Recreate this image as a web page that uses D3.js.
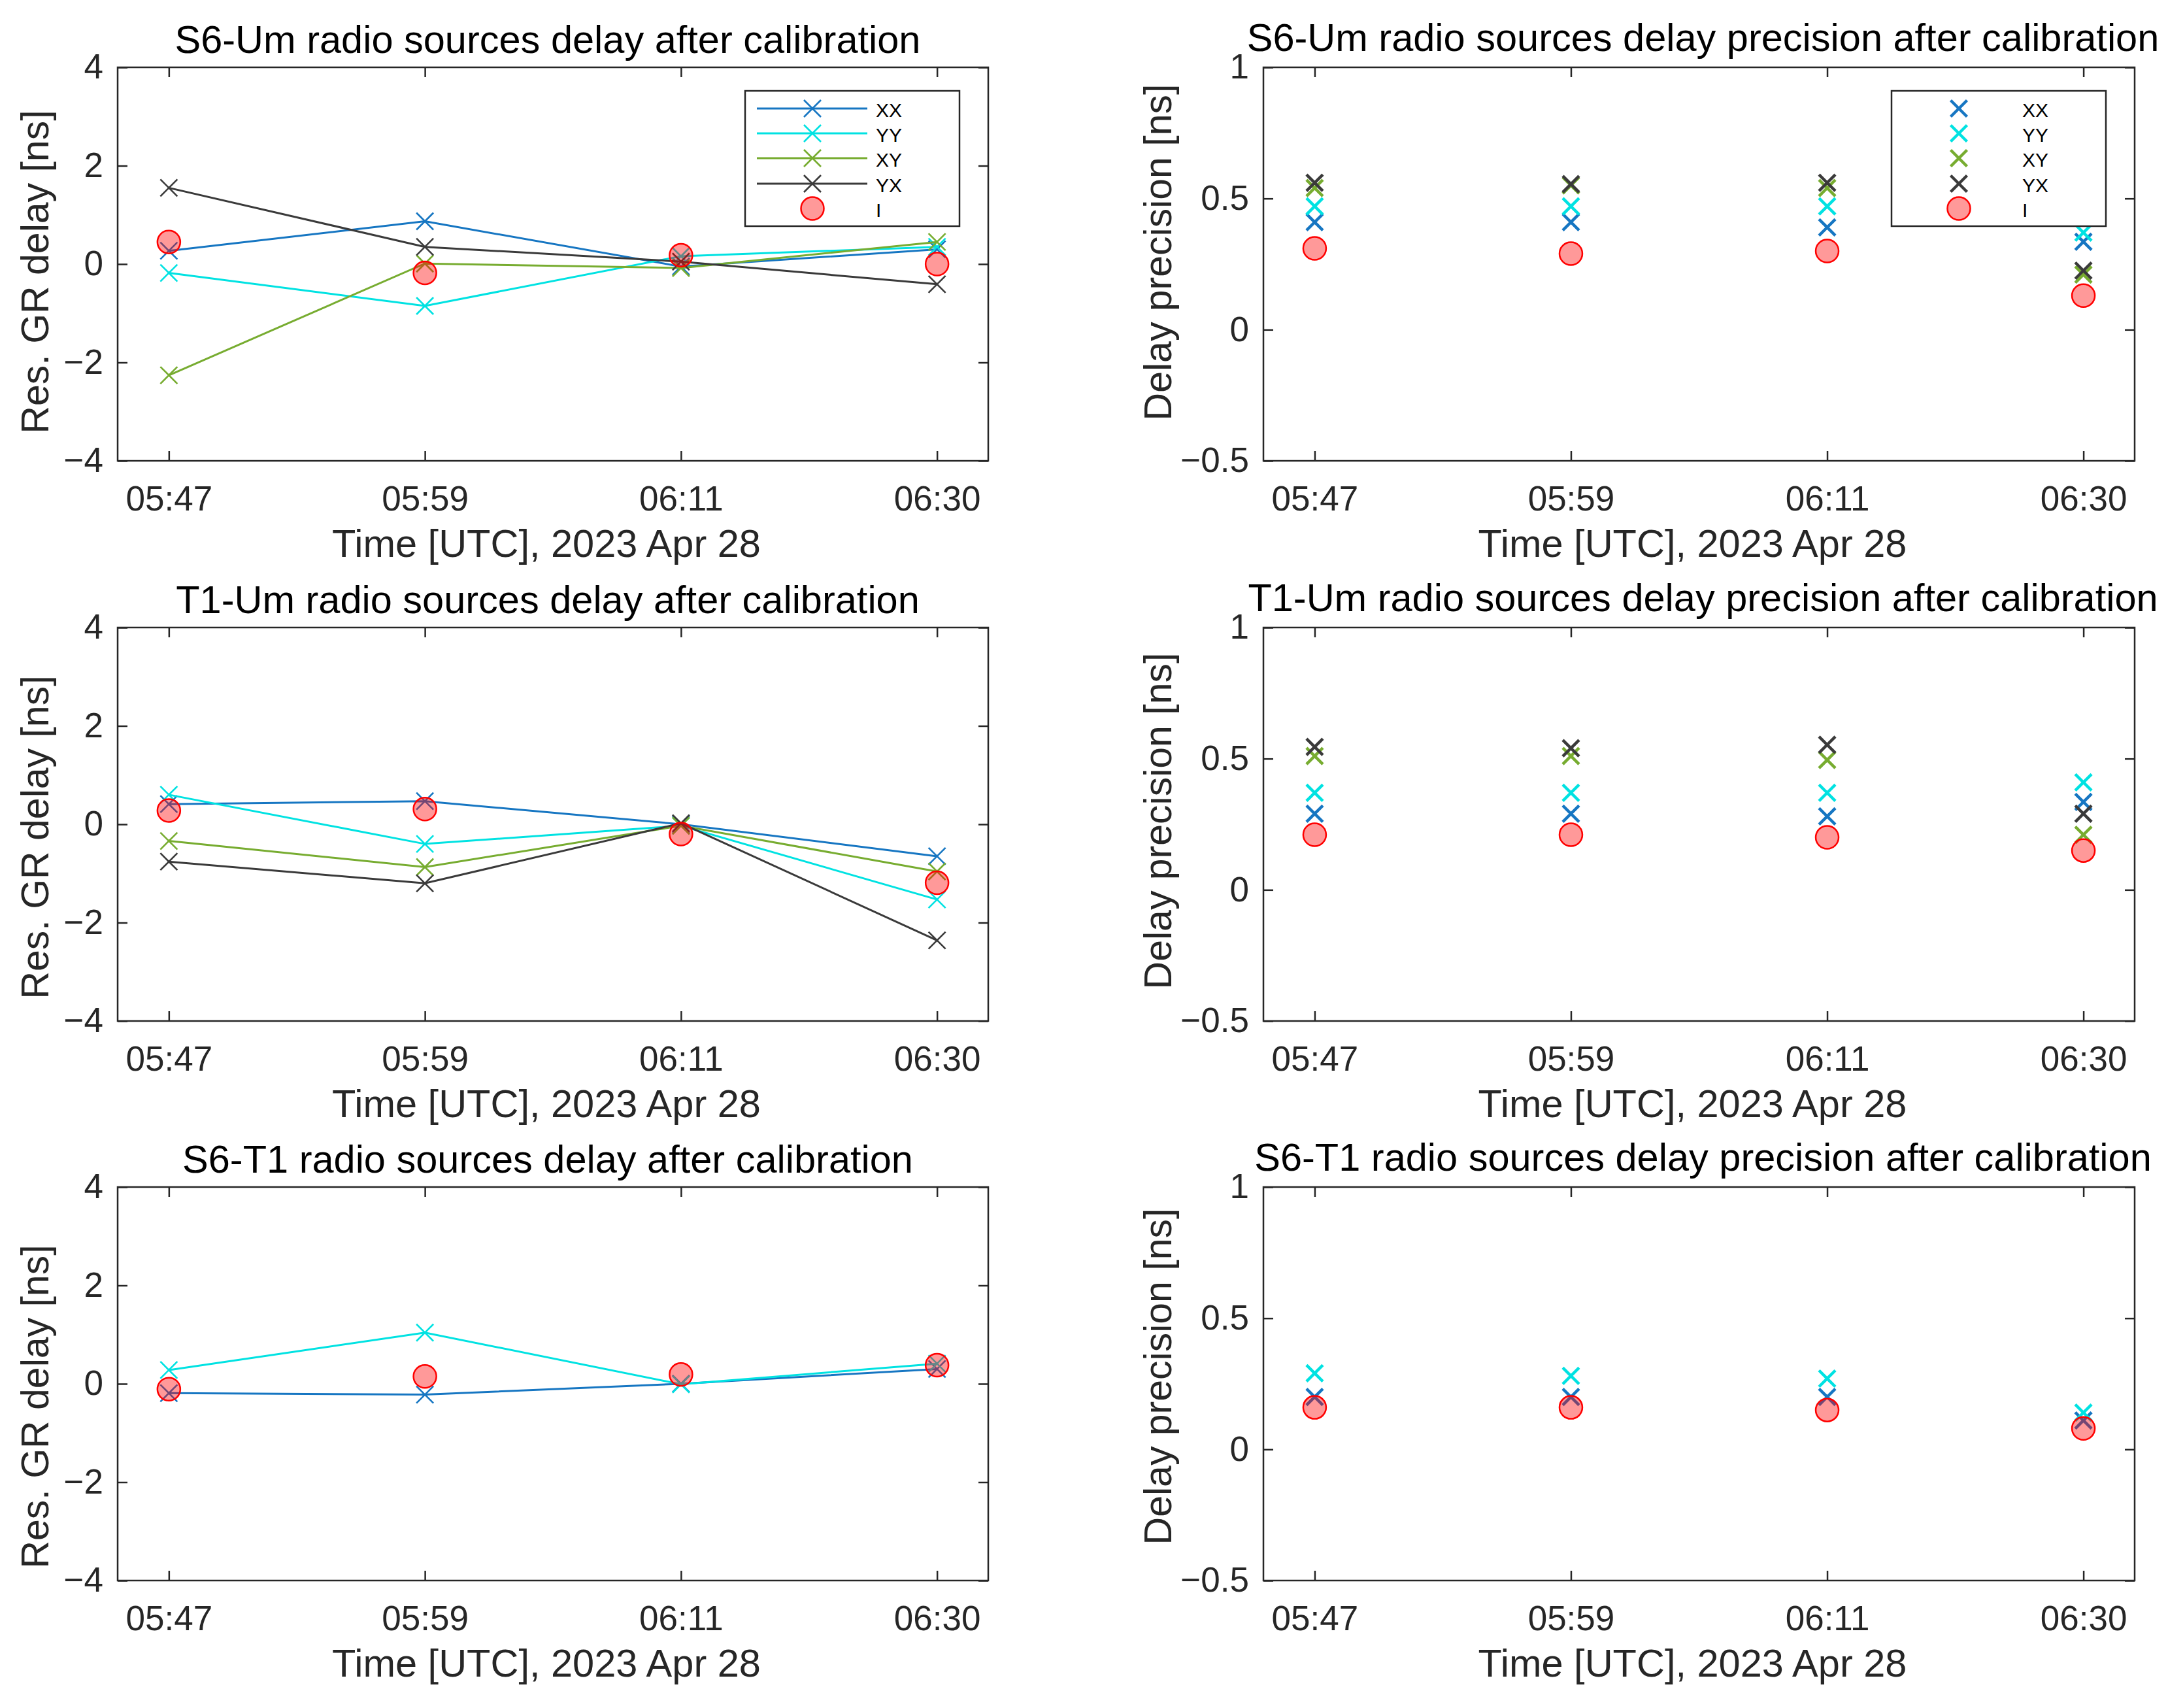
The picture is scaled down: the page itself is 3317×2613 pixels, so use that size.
<!DOCTYPE html>
<html>
<head>
<meta charset="utf-8">
<script src="https://cdn.jsdelivr.net/npm/d3@7"></script>
<style>
  html, body { margin: 0; padding: 0; background: #fff; }
</style>
</head>
<body>
<script>
// categories and tick labels
const timeLabels = ['05:47', '05:59', '06:11', '06:30'];
const timeIndex = [1, 2, 3, 4];
const polNames = ['XX', 'YY', 'XY', 'YX', 'I'];
const delayTicks = [-4, -2, 0, 2, 4];
const delayTickLabels = ['\u22124', '\u22122', '0', '2', '4'];
const precTicks = [-0.5, 0, 0.5, 1];
const precTickLabels = ['\u22120.5', '0', '0.5', '1'];

// S6-Um residual delay [ns]
const s6umDelayXX = [0.27, 0.87, -0.05, 0.30];
const s6umDelayYY = [-0.18, -0.85, 0.16, 0.35];
const s6umDelayXY = [-2.26, 0.01, -0.08, 0.45];
const s6umDelayYX = [1.55, 0.35, 0.05, -0.41];
const s6umDelayI = [0.45, -0.18, 0.18, 0.00];

// S6-Um delay precision [ns]
const s6umPrecXX = [0.41, 0.41, 0.39, 0.335];
const s6umPrecYY = [0.47, 0.47, 0.47, 0.37];
const s6umPrecXY = [0.54, 0.55, 0.54, 0.21];
const s6umPrecYX = [0.56, 0.555, 0.56, 0.225];
const s6umPrecI = [0.31, 0.29, 0.30, 0.13];

// T1-Um residual delay [ns]
const t1umDelayXX = [0.41, 0.47, 0.00, -0.65];
const t1umDelayYY = [0.60, -0.40, -0.03, -1.53];
const t1umDelayXY = [-0.34, -0.87, -0.03, -0.96];
const t1umDelayYX = [-0.76, -1.20, 0.02, -2.36];
const t1umDelayI = [0.28, 0.31, -0.20, -1.19];

// T1-Um delay precision [ns]
const t1umPrecXX = [0.29, 0.29, 0.28, 0.335];
const t1umPrecYY = [0.37, 0.37, 0.37, 0.41];
const t1umPrecXY = [0.51, 0.51, 0.495, 0.21];
const t1umPrecYX = [0.545, 0.54, 0.553, 0.29];
const t1umPrecI = [0.21, 0.21, 0.20, 0.15];

// S6-T1 residual delay [ns] (XX and YY only)
const s6t1DelayXX = [-0.19, -0.22, 0.00, 0.30];
const s6t1DelayYY = [0.28, 1.04, -0.01, 0.41];
const s6t1DelayI = [-0.11, 0.15, 0.19, 0.38];

// S6-T1 delay precision [ns]
const s6t1PrecXX = [0.20, 0.20, 0.20, 0.11];
const s6t1PrecYY = [0.29, 0.28, 0.27, 0.14];
const s6t1PrecI = [0.16, 0.16, 0.15, 0.08];

const polColors = ['#1676c2', '#00e2e2', '#77ac30', '#3a3a3a'];

const panels = [
    { title: 'S6-Um radio sources delay after calibration', kind: 'delay', col: 0, row: 0,
      series: [s6umDelayXX, s6umDelayYY, s6umDelayXY, s6umDelayYX], stokesI: s6umDelayI, legend: true, labelShift: 12 },
    { title: 'S6-Um radio sources delay precision after calibration', kind: 'prec', col: 1, row: 0,
      series: [s6umPrecXX, s6umPrecYY, s6umPrecXY, s6umPrecYX], stokesI: s6umPrecI, legend: true, labelShift: -18 },
    { title: 'T1-Um radio sources delay after calibration', kind: 'delay', col: 0, row: 1,
      series: [t1umDelayXX, t1umDelayYY, t1umDelayXY, t1umDelayYX], stokesI: t1umDelayI, legend: false, labelShift: 20 },
    { title: 'T1-Um radio sources delay precision after calibration', kind: 'prec', col: 1, row: 1,
      series: [t1umPrecXX, t1umPrecYY, t1umPrecXY, t1umPrecYX], stokesI: t1umPrecI, legend: false, labelShift: -5 },
    { title: 'S6-T1 radio sources delay after calibration', kind: 'delay', col: 0, row: 2,
      series: [s6t1DelayXX, s6t1DelayYY, null, null], stokesI: s6t1DelayI, legend: false, labelShift: 35 },
    { title: 'S6-T1 radio sources delay precision after calibration', kind: 'prec', col: 1, row: 2,
      series: [s6t1PrecXX, s6t1PrecYY, null, null], stokesI: s6t1PrecI, legend: false, labelShift: -11 }
];

// layout
const W = 3317, H = 2613;
const colX = [180, 1933];
const colW = [1332, 1333];
const rowY = [103, 960, 1816];
const plotH = 602;
const axisColor = '#262626';
const font = '"Liberation Sans", Arial, Helvetica, sans-serif';

const svg = d3.select('body').append('svg')
    .attr('width', W)
    .attr('height', H)
    .style('font-family', font);

function crossPath(r) {
    return `M${-r},${-r}L${r},${r}M${-r},${r}L${r},${-r}`;
}

function styleAxis(sel) {
    sel.select('.domain').remove();
    sel.attr('font-size', null).attr('font-family', null);
    sel.selectAll('.tick line').attr('stroke', axisColor).attr('stroke-width', 2.5);
    sel.selectAll('.tick text').attr('fill', axisColor).style('font-size', '53px');
}

panels.forEach(p => {
    const w = colW[p.col], h = plotH;
    const g = svg.append('g').attr('transform', `translate(${colX[p.col]},${rowY[p.row]})`);

    const x = d3.scaleLinear().domain([0.8, 4.2]).range([0, w]);
    const y = d3.scaleLinear()
        .domain(p.kind === 'delay' ? [-4, 4] : [-0.5, 1])
        .range([h, 0]);
    const yTicks = p.kind === 'delay' ? delayTicks : precTicks;
    const yLabels = p.kind === 'delay' ? delayTickLabels : precTickLabels;

    // axes with inward ticks on all four sides
    g.append('g').attr('transform', `translate(0,${h})`)
        .call(d3.axisBottom(x).tickValues(timeIndex).tickFormat((d, i) => timeLabels[i])
            .tickSizeInner(-15).tickSizeOuter(0).tickPadding(38))
        .call(styleAxis);
    g.append('g')
        .call(d3.axisTop(x).tickValues(timeIndex).tickFormat('').tickSizeInner(-15).tickSizeOuter(0))
        .call(styleAxis);
    g.append('g')
        .call(d3.axisLeft(y).tickValues(yTicks).tickFormat((d, i) => yLabels[i])
            .tickSizeInner(-15).tickSizeOuter(0).tickPadding(22))
        .call(styleAxis);
    g.append('g').attr('transform', `translate(${w},0)`)
        .call(d3.axisRight(y).tickValues(yTicks).tickFormat('').tickSizeInner(-15).tickSizeOuter(0))
        .call(styleAxis);

    g.append('rect')
        .attr('width', w).attr('height', h)
        .attr('fill', 'none').attr('stroke', axisColor).attr('stroke-width', 2.5);

    // data
    const line = d3.line().x((d, i) => x(timeIndex[i])).y(d => y(d));
    const thick = p.kind === 'prec';

    p.series.forEach((s, k) => {
        if (!s) return;
        if (!thick) {
            g.append('path').datum(s)
                .attr('d', line)
                .attr('fill', 'none')
                .attr('stroke', polColors[k])
                .attr('stroke-width', 3);
        }
        g.append('g').selectAll('path')
            .data(s)
            .join('path')
            .attr('transform', (d, i) => `translate(${x(timeIndex[i])},${y(d)})`)
            .attr('d', crossPath(thick ? 12.5 : 13))
            .attr('fill', 'none')
            .attr('stroke', polColors[k])
            .attr('stroke-width', thick ? 4.5 : 2.6);
    });

    g.append('g').selectAll('circle')
        .data(p.stokesI)
        .join('circle')
        .attr('cx', (d, i) => x(timeIndex[i]))
        .attr('cy', d => y(d))
        .attr('r', 17.5)
        .attr('fill', 'red')
        .attr('fill-opacity', 0.4)
        .attr('stroke', 'red')
        .attr('stroke-width', 2.5);

    // legend
    if (p.legend) {
        const lw = 328, lh = 207;
        const lg = g.append('g').attr('transform', `translate(${w - 44 - lw},36)`);
        lg.append('rect')
            .attr('width', lw).attr('height', lh)
            .attr('fill', '#fff').attr('stroke', axisColor).attr('stroke-width', 2.5);
        const rows = [27, 65, 103, 142, 180];
        polNames.forEach((name, k) => {
            const ry = rows[k];
            if (k < 4) {
                if (!thick) {
                    lg.append('line')
                        .attr('x1', 18).attr('x2', 187).attr('y1', ry).attr('y2', ry)
                        .attr('stroke', polColors[k]).attr('stroke-width', 3);
                }
                lg.append('path')
                    .attr('transform', `translate(103,${ry})`)
                    .attr('d', crossPath(thick ? 12.5 : 13))
                    .attr('fill', 'none')
                    .attr('stroke', polColors[k])
                    .attr('stroke-width', thick ? 4.5 : 2.6);
            } else {
                lg.append('circle')
                    .attr('cx', 103).attr('cy', ry).attr('r', 17.5)
                    .attr('fill', 'red').attr('fill-opacity', 0.4)
                    .attr('stroke', 'red').attr('stroke-width', 2.5);
            }
            lg.append('text')
                .attr('x', 200).attr('y', ry + 2)
                .attr('dominant-baseline', 'central')
                .style('font-size', '30px')
                .attr('fill', '#000')
                .text(name);
        });
    }

    // titles and labels
    g.append('text')
        .attr('x', w / 2 + (p.col === 0 ? -8 : 6))
        .attr('y', p.col === 0 ? -22 : -25)
        .attr('text-anchor', 'middle')
        .style('font-size', '59.5px')
        .attr('fill', '#000')
        .text(p.title);

    g.append('text')
        .attr('x', w / 2 - 10)
        .attr('y', h + 147)
        .attr('text-anchor', 'middle')
        .style('font-size', '59.5px')
        .attr('fill', axisColor)
        .text('Time [UTC], 2023 Apr 28');

    g.append('text')
        .attr('transform', `translate(${p.col === 0 ? -106 : -141},${h / 2 + p.labelShift}) rotate(-90)`)
        .attr('text-anchor', 'middle')
        .style('font-size', '59px')
        .attr('fill', axisColor)
        .text(p.kind === 'delay' ? 'Res. GR delay [ns]' : 'Delay precision [ns]');
});
</script>
</body>
</html>
